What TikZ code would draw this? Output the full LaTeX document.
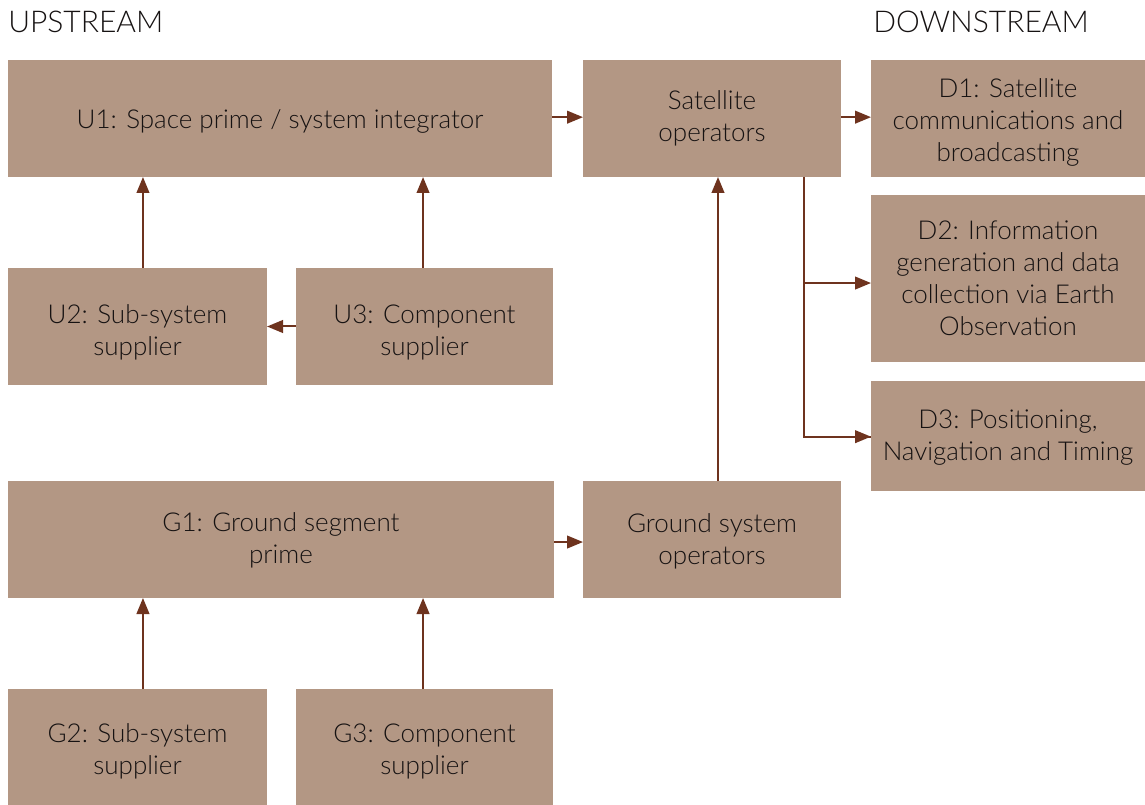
\documentclass[tikz,border=0pt]{standalone}
\usepackage{fontspec}
\setmainfont{Lato}[UprightFont={* Light}]
\usetikzlibrary{arrows.meta,calc}
\definecolor{boxfill}{RGB}{179,151,132}
\definecolor{arrowc}{RGB}{110,51,30}
\definecolor{textc}{RGB}{22,18,18}
% #1 = text height (pt), #2 name, #3-#6 corners in px, #7 text
\newcommand{\mybox}[7][0]{%
  \node[box, minimum width={(#5-#3)*0.75pt}, minimum height={(#6-#4)*0.75pt},
    text height=#1pt, text depth=0pt]
    (#2) at ({(#3+#5)/2},{(#4+#6)/2}) {#7};}
\begin{document}
\begin{tikzpicture}[x=0.75pt,y=-0.75pt,
  box/.style={rectangle, fill=boxfill, draw=none, inner sep=0pt, outer sep=0pt,
    align=center, text=textc, font=\fontsize{19.5}{24}\selectfont},
  arr/.style={draw=arrowc, line width=1.5pt, -{Triangle[length=12pt,width=9.5pt]}},
  ln/.style={draw=arrowc, line width=1.5pt},
  hdr/.style={anchor=base west, inner sep=0pt, text=textc, font=\fontsize{22.5}{28}\selectfont}]
\useasboundingbox (0,0) rectangle (1145,805);
\node[hdr] (up) at (8,32.5) {UPSTREAM};
\node[hdr] (down) at (873,32.5) {DOWNSTREAM};
\mybox[15.2]{U1}{8}{60}{552}{177}{U1: Space prime / system integrator}
\mybox[34.6]{SAT}{583}{60}{841}{177}{Satellite\\operators}
\mybox[64.6]{D1}{871}{60}{1145}{177}{D1: Satellite\\communications and\\broadcasting}
\mybox[85.6]{D2}{871}{195}{1145}{362}{D2: Information\\generation and data\\collection via Earth\\Observation}
\mybox[37]{D3}{871}{381}{1145}{491}{D3: Positioning,\\Navigation and Timing}
\mybox[43.6]{U2}{8}{268}{267}{385}{U2: Sub-system\\supplier}
\mybox[43.6]{U3}{296}{268}{553}{385}{U3: Component\\supplier}
\mybox[36.2]{G1}{8}{481}{554}{598}{G1: Ground segment\\prime}
\mybox[37.6]{GS}{583}{481}{841}{598}{Ground system\\operators}
\mybox[41.4]{G2}{8}{689}{267}{805}{G2: Sub-system\\supplier}
\mybox[41.4]{G3}{296}{689}{553}{805}{G3: Component\\supplier}
% arrows
\draw[arr] ([yshift=1pt]U1.east) -- ([yshift=1pt]U1.east -| SAT.west);
\draw[arr] ([yshift=1pt]SAT.east) -- ([yshift=1pt]SAT.east -| D1.west);
\draw[arr] ([xshift=4.1pt]U2.north) -- ([xshift=4.1pt]U2.north |- U1.south);
\draw[arr] ([xshift=-1.1pt]U3.north) -- ([xshift=-1.1pt]U3.north |- U1.south);
\draw[arr] (U3.west) -- (U2.east);
\draw[arr] ([xshift=4.5pt]GS.north) -- ([xshift=4.5pt]SAT.south);
\coordinate (br) at ([xshift=-27.75pt]SAT.south east);
\draw[ln] (br) |- ([yshift=-0.5pt]D3.west);
\draw[arr] ([yshift=-0.5pt]br |- D3.west) -- ([yshift=-0.5pt]D3.west);
\draw[arr] ([yshift=-3.4pt]br |- D2.west) -- ([yshift=-3.4pt]D2.west);
\draw[arr] ([yshift=-1.9pt]G1.east) -- ([yshift=-1.9pt]G1.east -| GS.west);
\draw[arr] ([xshift=4.1pt]G2.north) -- ([xshift=4.1pt]G2.north |- G1.south);
\draw[arr] ([xshift=-1.1pt]G3.north) -- ([xshift=-1.1pt]G3.north |- G1.south);
\end{tikzpicture}
\end{document}
